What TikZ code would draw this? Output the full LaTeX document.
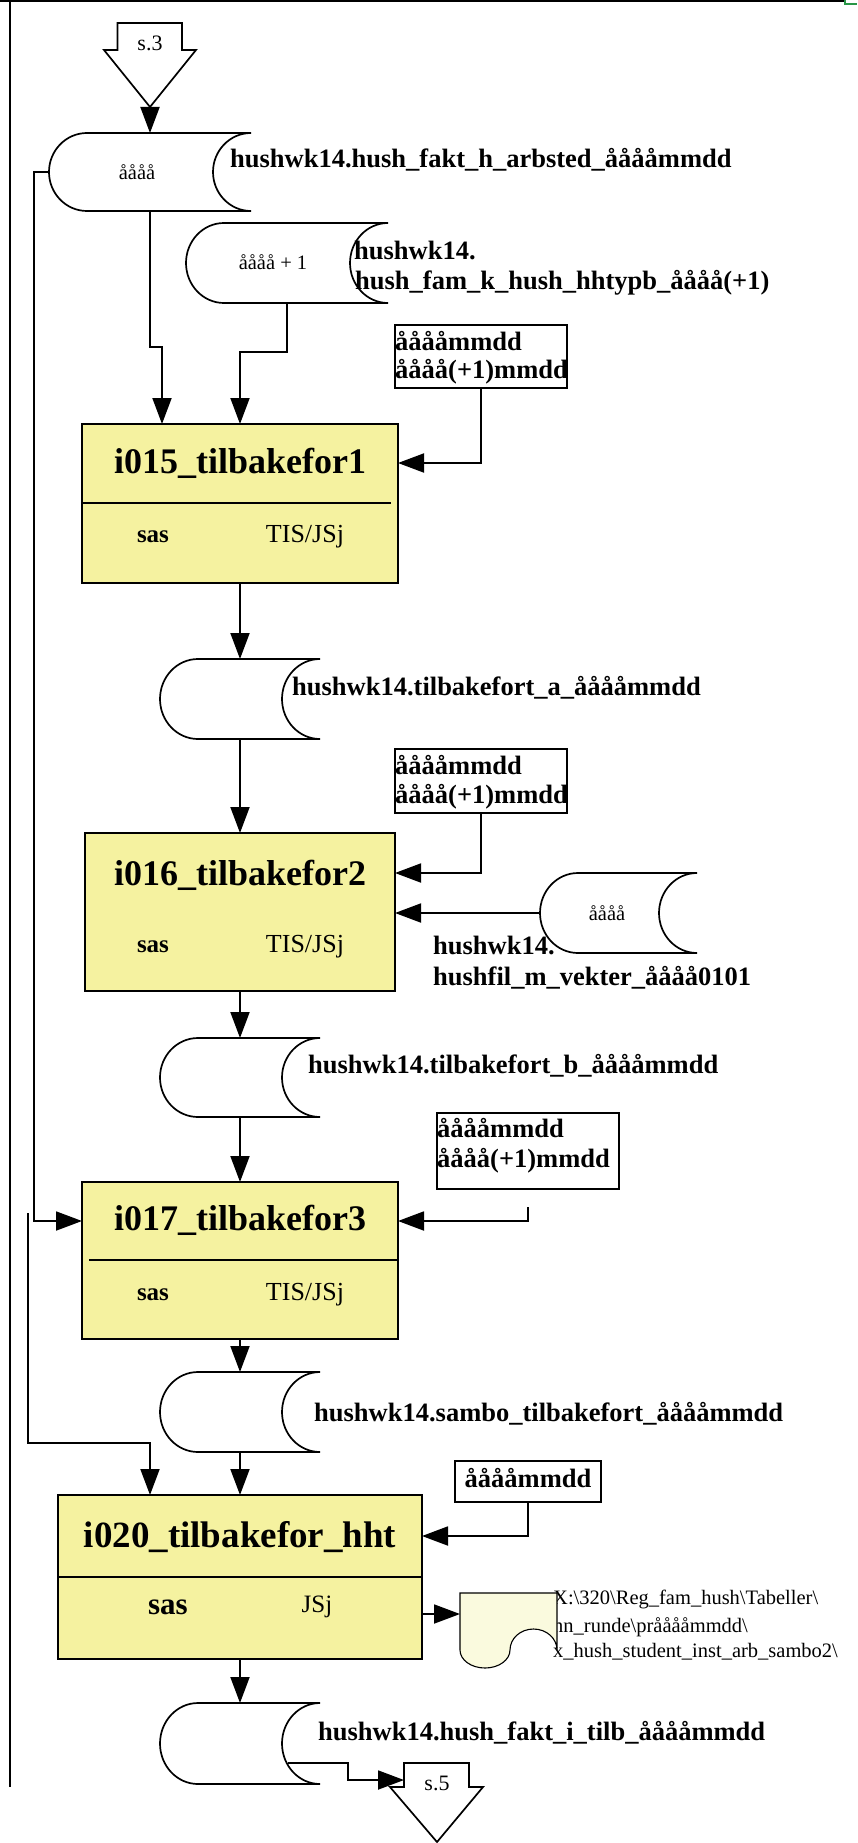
\documentclass[tikz,border=0pt]{standalone}
\usepackage{fontspec}
\setmainfont{Liberation Serif}
\usetikzlibrary{arrows.meta,fit}
\definecolor{procfill}{RGB}{245,242,160}
\definecolor{docfill}{RGB}{250,250,222}
\definecolor{framegreen}{RGB}{40,150,70}
\newcommand\lblfont{\bfseries\fontsize{26.5}{33}\selectfont}
\newcommand\titlefont{\bfseries\fontsize{36}{43}\selectfont}
\newcommand\smallfont{\fontsize{20.5}{25}\selectfont}
\newcommand\storage[6]{%
  \draw[store] (#2+38,#3) -- (#4,#3) arc[start angle=90,end angle=270,x radius=38pt,y radius=#6pt]
    -- (#2+38,#5) arc[start angle=270,end angle=90,x radius=38pt,y radius=#6pt] -- cycle;
  \node[fit={(#2,#3) (#4,#5)}, inner sep=0pt, outer sep=0pt] (#1) {};
}
\tikzset{
  arr/.style={line width=1.9pt, -{Triangle[length=26pt,width=19pt]}},
  store/.style={draw, line width=1.7pt, fill=white},
  proc/.style={draw, line width=2.2pt, fill=procfill, inner sep=0pt, outer sep=0pt, anchor=north west},
  param/.style={draw, line width=1.1pt, inner sep=0pt, outer sep=0pt, anchor=north west},
  lbl/.style={font=\lblfont, anchor=west, inner sep=0pt},
  title/.style={font=\titlefont, inner sep=0pt},
  small/.style={font=\smallfont, inner sep=0pt},
  offpage/.style={draw, line width=1.7pt, fill=white},
}
\begin{document}
\begin{tikzpicture}[x=1pt,y=-1pt]
\useasboundingbox (0,0) rectangle (857,1843);
% frame
\draw[line width=1.8pt] (0,1) -- (845,1);
\draw[line width=1.8pt] (10,0) -- (10,1787);
\draw[framegreen, line width=1.8pt] (845,0) -- (845,4) -- (857,4);

% off-page connector s.3
\draw[offpage] (117.5,23) -- (182,23) -- (182,50) -- (196,50) -- (150,107) coordinate (s3tip) -- (104,50) -- (117.5,50) -- cycle;
\node[small, font=\fontsize{22}{26}\selectfont] (s3) at (150,43) {s.3};

% storages
\storage{st1}{49}{133}{251}{211}{39}
\node[small] (st1t) at (137,172) {åååå};
\node[lbl] (l1) at (230,160) {hushwk14.hush\_fakt\_h\_arbsted\_ååååmmdd};

\storage{st2}{186}{223}{388}{303}{40}
\node[small] (st2t) at (273,262) {åååå + 1};
\node[lbl] (l2a) at (354,250) {hushwk14.};
\node[lbl] (l2b) at (355,283) {hush\_fam\_k\_hush\_hhtypb\_åååå(+1)};

% parameter box 1
\node[param, minimum width=172pt, minimum height=63pt] (p1) at (395,325) {};
\node[lbl] (p1a) at (395,341) {ååååmmdd};
\node[lbl] (p1b) at (395,372) {åååå(+1)mmdd};

% process 1
\node[proc, minimum width=316pt, minimum height=159pt] (b1) at (82,424) {};
\draw[line width=2.2pt] (82,503) -- (391,503);
\node[title] (b1t) at (240,463) {i015\_tilbakefor1};
\node[inner sep=0pt, font=\bfseries\fontsize{25}{30}\selectfont] (b1s) at (153,537) {sas};
\node[inner sep=0pt, font=\fontsize{26}{30}\selectfont] (b1r) at (305,537) {TIS/JSj};

\draw[arr] (s3tip) -- (st1.north);
\draw[arr] (st1.south) -- ++(0,136) -| ([xshift=-78pt]b1.north);
\draw[arr] (st2.south) -- ++(0,49) -| (b1.north);
\draw[arr] (p1.south) |- ([yshift=-39pt]b1.north east);

% storage a
\storage{sta}{160}{659}{320}{739}{40}
\node[lbl] (la) at (292,688) {hushwk14.tilbakefort\_a\_ååååmmdd};
\draw[arr] (b1.south) -- (sta.north);

% parameter box 2
\node[param, minimum width=172pt, minimum height=64pt] (p2) at (395,749) {};
\node[lbl] (p2a) at (395,765) {ååååmmdd};
\node[lbl] (p2b) at (395,797) {åååå(+1)mmdd};

% process 2
\node[proc, minimum width=310pt, minimum height=158pt] (b2) at (85,833) {};
\node[title] (b2t) at (240,875) {i016\_tilbakefor2};
\node[inner sep=0pt, font=\bfseries\fontsize{25}{30}\selectfont] (b2s) at (153,947) {sas};
\node[inner sep=0pt, font=\fontsize{26}{30}\selectfont] (b2r) at (305,947) {TIS/JSj};
\draw[arr] (sta.south) -- (b2.north);
\draw[arr] (p2.south) |- ([yshift=-40pt]b2.north east);

% storage right
\storage{str}{540}{873}{697}{953}{40}
\node[small] (strt) at (607,913) {åååå};
\node[lbl] (lra) at (433,945) {hushwk14.};
\node[lbl] (lrb) at (433,978) {hushfil\_m\_vekter\_åååå0101};
\draw[arr] (str.west) -- (str.west -| b2.east);

% storage b
\storage{stb}{160}{1038}{320}{1117}{39.5}
\node[lbl] (lb) at (308,1066) {hushwk14.tilbakefort\_b\_ååååmmdd};
\draw[arr] (b2.south) -- (stb.north);

% parameter box 3
\node[param, minimum width=182pt, minimum height=76pt] (p3) at (437,1113) {};
\node[lbl] (p3a) at (437,1128) {ååååmmdd};
\node[lbl] (p3b) at (437,1161) {åååå(+1)mmdd};
\coordinate (p3out) at (528,1207);

% process 3
\node[proc, minimum width=316pt, minimum height=157pt] (b3) at (82,1182) {};
\draw[line width=2.2pt] (89,1260) -- (398,1260);
\node[title] (b3t) at (240,1220) {i017\_tilbakefor3};
\node[inner sep=0pt, font=\bfseries\fontsize{25}{30}\selectfont] (b3s) at (153,1295) {sas};
\node[inner sep=0pt, font=\fontsize{26}{30}\selectfont] (b3r) at (305,1295) {TIS/JSj};
\draw[arr] (stb.south) -- (b3.north);
\draw[arr] (p3out) |- ([yshift=-39pt]b3.north east);
\draw[arr] (st1.west) -- ++(-15,0) |- ([yshift=-39pt]b3.north west);

% storage c
\storage{stc}{160}{1372}{320}{1452}{40}
\node[lbl] (lc) at (314,1414) {hushwk14.sambo\_tilbakefort\_ååååmmdd};
\draw[arr] (b3.south) -- (stc.north);

% parameter box 4
\node[param, minimum width=146pt, minimum height=41pt] (p4) at (455,1461) {};
\node[inner sep=0pt, font=\lblfont] (p4a) at (528,1478) {ååååmmdd};

% process 4
\node[proc, minimum width=364pt, minimum height=164pt] (b4) at (58,1495) {};
\draw[line width=2.2pt] (58,1577) -- (422,1577);
\node[title, font=\bfseries\fontsize{37}{43}\selectfont] (b4t) at (240,1537) {i020\_tilbakefor\_hht};
\node[inner sep=0pt, font=\bfseries\fontsize{31}{36}\selectfont] (b4s) at (168,1607) {sas};
\node[inner sep=0pt, font=\fontsize{25}{30}\selectfont] (b4r) at (317,1607) {JSj};
\draw[arr] (stc.south) -- (b4.north);
\coordinate (lstart) at (28,1213);
\draw[arr] (lstart) |- ([xshift=-90pt,yshift=52pt]b4.north) -- ([xshift=-90pt]b4.north);
\draw[arr] (p4.south) |- ([yshift=-41pt]b4.north east);

% document output
\node[small, anchor=west] (d1) at (553,1599) {X:\textbackslash 320\textbackslash Reg\_fam\_hush\textbackslash Tabeller\textbackslash};
\node[small, anchor=west] (d2) at (553,1627) {nn\_runde\textbackslash prååååmmdd\textbackslash};
\node[small, anchor=west] (d3) at (553,1652) {x\_hush\_student\_inst\_arb\_sambo2\textbackslash};
\draw[line width=1.1pt, fill=docfill] (460,1593) -- (557,1593) -- (557,1650)
  arc[start angle=0,end angle=180,x radius=23.5pt,y radius=21pt]
  arc[start angle=0,end angle=-180,x radius=25pt,y radius=18pt] -- cycle;
\coordinate (docin) at (460,1614);
\draw[arr] ([yshift=-119pt]b4.north east) -- (docin);

% storage d
\storage{std}{160}{1703}{320}{1784}{40.5}
\node[lbl] (ld) at (318,1733) {hushwk14.hush\_fakt\_i\_tilb\_ååååmmdd};
\draw[arr] (b4.south) -- (std.north);

% off-page connector s.5
\draw[offpage] (404,1763) -- (469,1763) -- (469,1787) -- (483,1787) -- (437,1842) -- (390,1787) -- (404,1787) -- cycle;
\node[small, font=\fontsize{22}{26}\selectfont] (s5) at (437,1783) {s.5};
\coordinate (s5in) at (404,1780);
\coordinate (stdout) at (288,1763);
\draw[arr] (stdout) -- ++(60,0) |- (s5in);
\end{tikzpicture}
\end{document}
